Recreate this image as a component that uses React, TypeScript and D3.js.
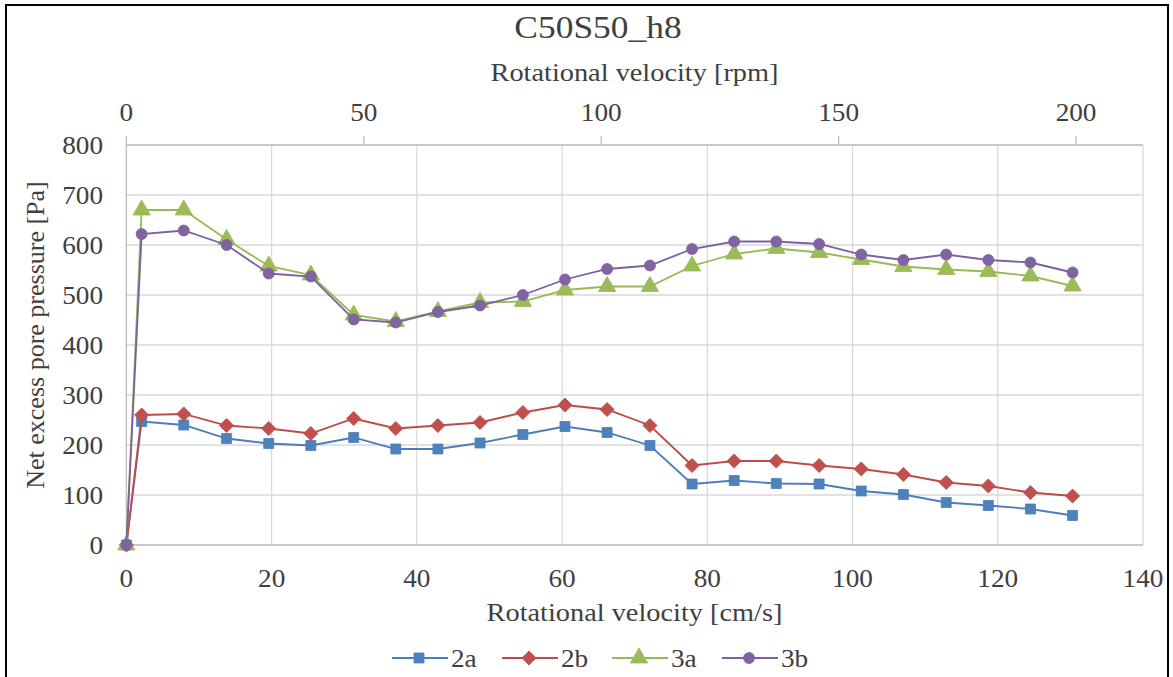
import React from "react";
import * as d3 from "d3";

const velocityCms = [0, 2.1, 7.9, 13.8, 19.6, 25.4, 31.3, 37.1, 42.9, 48.7, 54.6, 60.4, 66.2, 72.1, 77.9, 83.7, 89.5, 95.4, 101.2, 107.0, 112.9, 118.7, 124.5, 130.3];
const s2a = [0, 247, 240, 213, 203, 199, 215, 192, 192, 204, 221, 237, 225, 199, 122, 129, 123, 122, 108, 101, 85, 79, 72, 59];
const s2b = [0, 260, 262, 239, 233, 223, 253, 233, 239, 245, 265, 280, 271, 239, 159, 168, 168, 159, 152, 141, 125, 118, 105, 98];
const s3a = [0, 670, 670, 611, 558, 540, 460, 447, 467, 485, 487, 510, 517, 517, 558, 582, 593, 585, 571, 557, 551, 547, 538, 518];
const s3b = [0, 622, 629, 600, 543, 537, 451, 445, 466, 479, 500, 531, 552, 559, 592, 607, 607, 602, 581, 570, 581, 570, 565, 545];

const xTicks = [0, 20, 40, 60, 80, 100, 120, 140];
const yTicks = [0, 100, 200, 300, 400, 500, 600, 700, 800];
const rpmTicks = [0, 50, 100, 150, 200];
const rpmMax = 214.1;

const seriesNames = ["2a", "2b", "3a", "3b"];
const seriesData = [s2a, s2b, s3a, s3b];
const lineColors = ["#4A7EBB", "#BE4B48", "#98B954", "#7D60A0"];
const fillColors = ["#4F81BD", "#C0504D", "#9BBB59", "#8064A2"];
const markerTypes = [d3.symbolSquare, d3.symbolSquare, d3.symbolTriangle, d3.symbolCircle];
const markerSizes = [100, 100, 130, 95];
const markerRot = [0, 45, 0, 0];

const FONT = "'Liberation Serif', 'Times New Roman', serif";
const SX = 1.09;

function HText(props: { x: number; y: number; size: number; anchor?: string; dy?: string; children: any }) {
  return (
    <g transform={`translate(${props.x},${props.y}) scale(${SX},1)`}>
      <text x={0} y={0} dy={props.dy || "0"} textAnchor={props.anchor || "middle"} fontSize={props.size} fill="#404040" style={{ fontFamily: FONT }}>
        {props.children}
      </text>
    </g>
  );
}

export default function App() {
  const left = 126.4, right = 1143, top = 145, bottom = 545;
  const x = d3.scaleLinear().domain([0, 140]).range([left, right]);
  const xTop = d3.scaleLinear().domain([0, rpmMax]).range([left, right]);
  const y = d3.scaleLinear().domain([0, 800]).range([bottom, top]);
  const line = d3.line<number>().x((_, i) => x(velocityCms[i])).y((d) => y(d));

  const legendX = [392, 502, 612, 722];

  return (
    <svg width={1173} height={677} style={{ position: "absolute", left: 0, top: 0, background: "#fff", fontFamily: FONT }}>
      <rect x={0} y={0} width={1173} height={677} fill="#fff" />
      <rect x={6} y={5} width={1162} height={700} fill="none" stroke="#000" strokeWidth={2} />
      {yTicks.map((t) => (
        <line key={"gy" + t} x1={left} x2={right} y1={y(t)} y2={y(t)} stroke="#D9D9D9" strokeWidth={1.3} />
      ))}
      {xTicks.map((t) => (
        <line key={"gx" + t} x1={x(t)} x2={x(t)} y1={top} y2={bottom} stroke="#D9D9D9" strokeWidth={1.3} />
      ))}
      <line x1={left} x2={right} y1={bottom} y2={bottom} stroke="#BFBFBF" strokeWidth={1.3} />
      <line x1={left} x2={left} y1={top} y2={bottom} stroke="#BFBFBF" strokeWidth={1.3} />
      <line x1={left} x2={right} y1={top} y2={top} stroke="#BFBFBF" strokeWidth={1.3} />
      {rpmTicks.map((t) => (
        <line key={"rt" + t} x1={xTop(t)} x2={xTop(t)} y1={top - 9} y2={top} stroke="#BFBFBF" strokeWidth={1.3} />
      ))}
      {yTicks.map((t) => (
        <HText key={"yl" + t} x={103} y={y(t)} dy="0.35em" anchor="end" size={25}>{t}</HText>
      ))}
      {xTicks.map((t) => (
        <HText key={"xl" + t} x={x(t)} y={587} size={25}>{t}</HText>
      ))}
      {rpmTicks.map((t) => (
        <HText key={"rl" + t} x={xTop(t)} y={121} size={25}>{t}</HText>
      ))}
      <HText x={598} y={38} size={32.5}>C50S50_h8</HText>
      <HText x={634.5} y={81} size={26}>Rotational velocity [rpm]</HText>
      <HText x={634.5} y={621} size={26}>Rotational velocity [cm/s]</HText>
      <text transform={`translate(44,${(top + bottom) / 2 - 10}) rotate(-90)`} textAnchor="middle" fontSize={26} fill="#404040" style={{ fontFamily: FONT }}>Net excess pore pressure [Pa]</text>
      {seriesData.map((s, k) => (
        <g key={"s" + k}>
          <path d={line(s) || ""} fill="none" stroke={lineColors[k]} strokeWidth={1.8} />
          {s.map((v, i) => (
            <path key={i} d={d3.symbol().type(markerTypes[k]).size(markerSizes[k])() || ""}
              transform={`translate(${x(velocityCms[i])},${y(v)}) rotate(${markerRot[k]})`} fill={fillColors[k]} stroke={lineColors[k]} strokeWidth={0.8} />
          ))}
        </g>
      ))}
      {seriesNames.map((n, k) => (
        <g key={"lg" + k} transform={`translate(${legendX[k]},658)`}>
          <line x1={0} x2={56} y1={0} y2={0} stroke={lineColors[k]} strokeWidth={1.8} />
          <path d={d3.symbol().type(markerTypes[k]).size(markerSizes[k])() || ""} transform={`translate(27,0) rotate(${markerRot[k]})`} fill={fillColors[k]} stroke={lineColors[k]} strokeWidth={0.8} />
          <HText x={59} y={0} dy="0.35em" anchor="start" size={25}>{n}</HText>
        </g>
      ))}
    </svg>
  );
}
